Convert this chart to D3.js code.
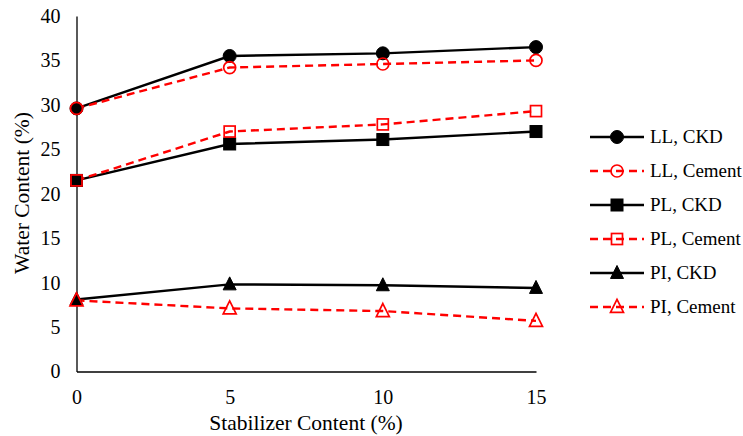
<!DOCTYPE html>
<html><head><meta charset="utf-8">
<script src="https://cdn.jsdelivr.net/npm/d3@7"></script>
<style>body{margin:0;background:#fff}svg{display:block;font-family:"Liberation Serif","Times New Roman",serif}</style>
</head><body><svg id="c" width="743" height="436"></svg>
<script>
const xValues = [0, 5, 10, 15];
const llCKD = [29.6, 35.5, 35.8, 36.5];
const llCement = [29.6, 34.2, 34.6, 35.0];
const plCKD = [21.5, 25.6, 26.1, 27.0];
const plCement = [21.5, 27.0, 27.8, 29.3];
const piCKD = [8.1, 9.8, 9.7, 9.4];
const piCement = [8.0, 7.1, 6.8, 5.7];
const yTicks = [0, 5, 10, 15, 20, 25, 30, 35, 40];
const seriesNames = ["LL, CKD", "LL, Cement", "PL, CKD", "PL, Cement", "PI, CKD", "PI, Cement"];

const series = [
  {name: seriesNames[0], values: llCKD, color: "#000", dash: null, shape: "circle", filled: true},
  {name: seriesNames[1], values: llCement, color: "#ff0000", dash: "8,5", shape: "circle", filled: false},
  {name: seriesNames[2], values: plCKD, color: "#000", dash: null, shape: "square", filled: true},
  {name: seriesNames[3], values: plCement, color: "#ff0000", dash: "8,5", shape: "square", filled: false},
  {name: seriesNames[4], values: piCKD, color: "#000", dash: null, shape: "triangle", filled: true},
  {name: seriesNames[5], values: piCement, color: "#ff0000", dash: "8,5", shape: "triangle", filled: false}
];

const svg = d3.select("#c");
const x = d3.scaleLinear().domain([0, 15]).range([76.5, 536]);
const y = d3.scaleLinear().domain([0, 40]).range([371.5, 16]);

// axes
const xAxis = svg.append("g").attr("transform", `translate(0,${y(0)})`)
  .call(d3.axisBottom(x).tickValues(xValues).tickSize(0).tickPadding(18));
const yAxis = svg.append("g").attr("transform", `translate(${x(0)},0)`)
  .call(d3.axisLeft(y).tickValues(yTicks).tickSize(0).tickPadding(16));
[xAxis, yAxis].forEach(a => {
  a.attr("font-family", "Liberation Serif").attr("font-size", 20);
  a.select(".domain").attr("stroke", "#000").attr("stroke-width", 1.3);
  a.selectAll("text").attr("fill", "#000");
});

svg.append("text").attr("x", 306).attr("y", 430).attr("text-anchor", "middle")
  .attr("font-size", 21.5).text("Stabilizer Content (%)");
svg.append("text").attr("transform", "translate(29,193) rotate(-90)").attr("text-anchor", "middle")
  .attr("font-size", 21.5).text("Water Content (%)");

function drawMarker(g, shape, cx, cy, color, filled) {
  const fill = filled ? color : "none";
  const sw = filled ? 1 : 1.7;
  if (shape === "circle") {
    g.append("circle").attr("cx", cx).attr("cy", cy).attr("r", filled ? 6.5 : 6)
      .attr("fill", fill).attr("stroke", color).attr("stroke-width", sw);
  } else if (shape === "square") {
    const s = filled ? 12 : 11;
    g.append("rect").attr("x", cx - s/2).attr("y", cy - s/2).attr("width", s).attr("height", s)
      .attr("fill", fill).attr("stroke", color).attr("stroke-width", sw);
  } else {
    const s = 13;
    const pts = [[cx, cy - s*0.58], [cx + s/2, cy + s*0.42], [cx - s/2, cy + s*0.42]];
    g.append("path").attr("d", "M" + pts.map(p => p.join(",")).join("L") + "Z")
      .attr("fill", fill).attr("stroke", color).attr("stroke-width", sw);
  }
}

const line = d3.line().x((d, i) => x(xValues[i])).y(d => y(d));
const plot = svg.append("g");
series.forEach(s => {
  plot.append("path").datum(s.values).attr("d", line).attr("fill", "none")
    .attr("stroke", s.color).attr("stroke-width", s.filled ? 2.4 : 2.4)
    .attr("stroke-dasharray", s.dash);
});
series.forEach(s => {
  s.values.forEach((v, i) => drawMarker(plot, s.shape, x(xValues[i]), y(v), s.color, s.filled));
});

// legend
const legY = d3.scalePoint().domain(seriesNames).range([137, 307]);
const leg = svg.append("g");
series.forEach(s => {
  const ly = legY(s.name);
  leg.append("line").attr("x1", 590).attr("x2", 644).attr("y1", ly).attr("y2", ly)
    .attr("stroke", s.color).attr("stroke-width", 2.4).attr("stroke-dasharray", s.dash);
  drawMarker(leg, s.shape, 617, ly, s.color, s.filled);
  leg.append("text").attr("x", 650).attr("y", ly + 6).attr("font-size", 19).text(s.name);
});
</script></body></html>
